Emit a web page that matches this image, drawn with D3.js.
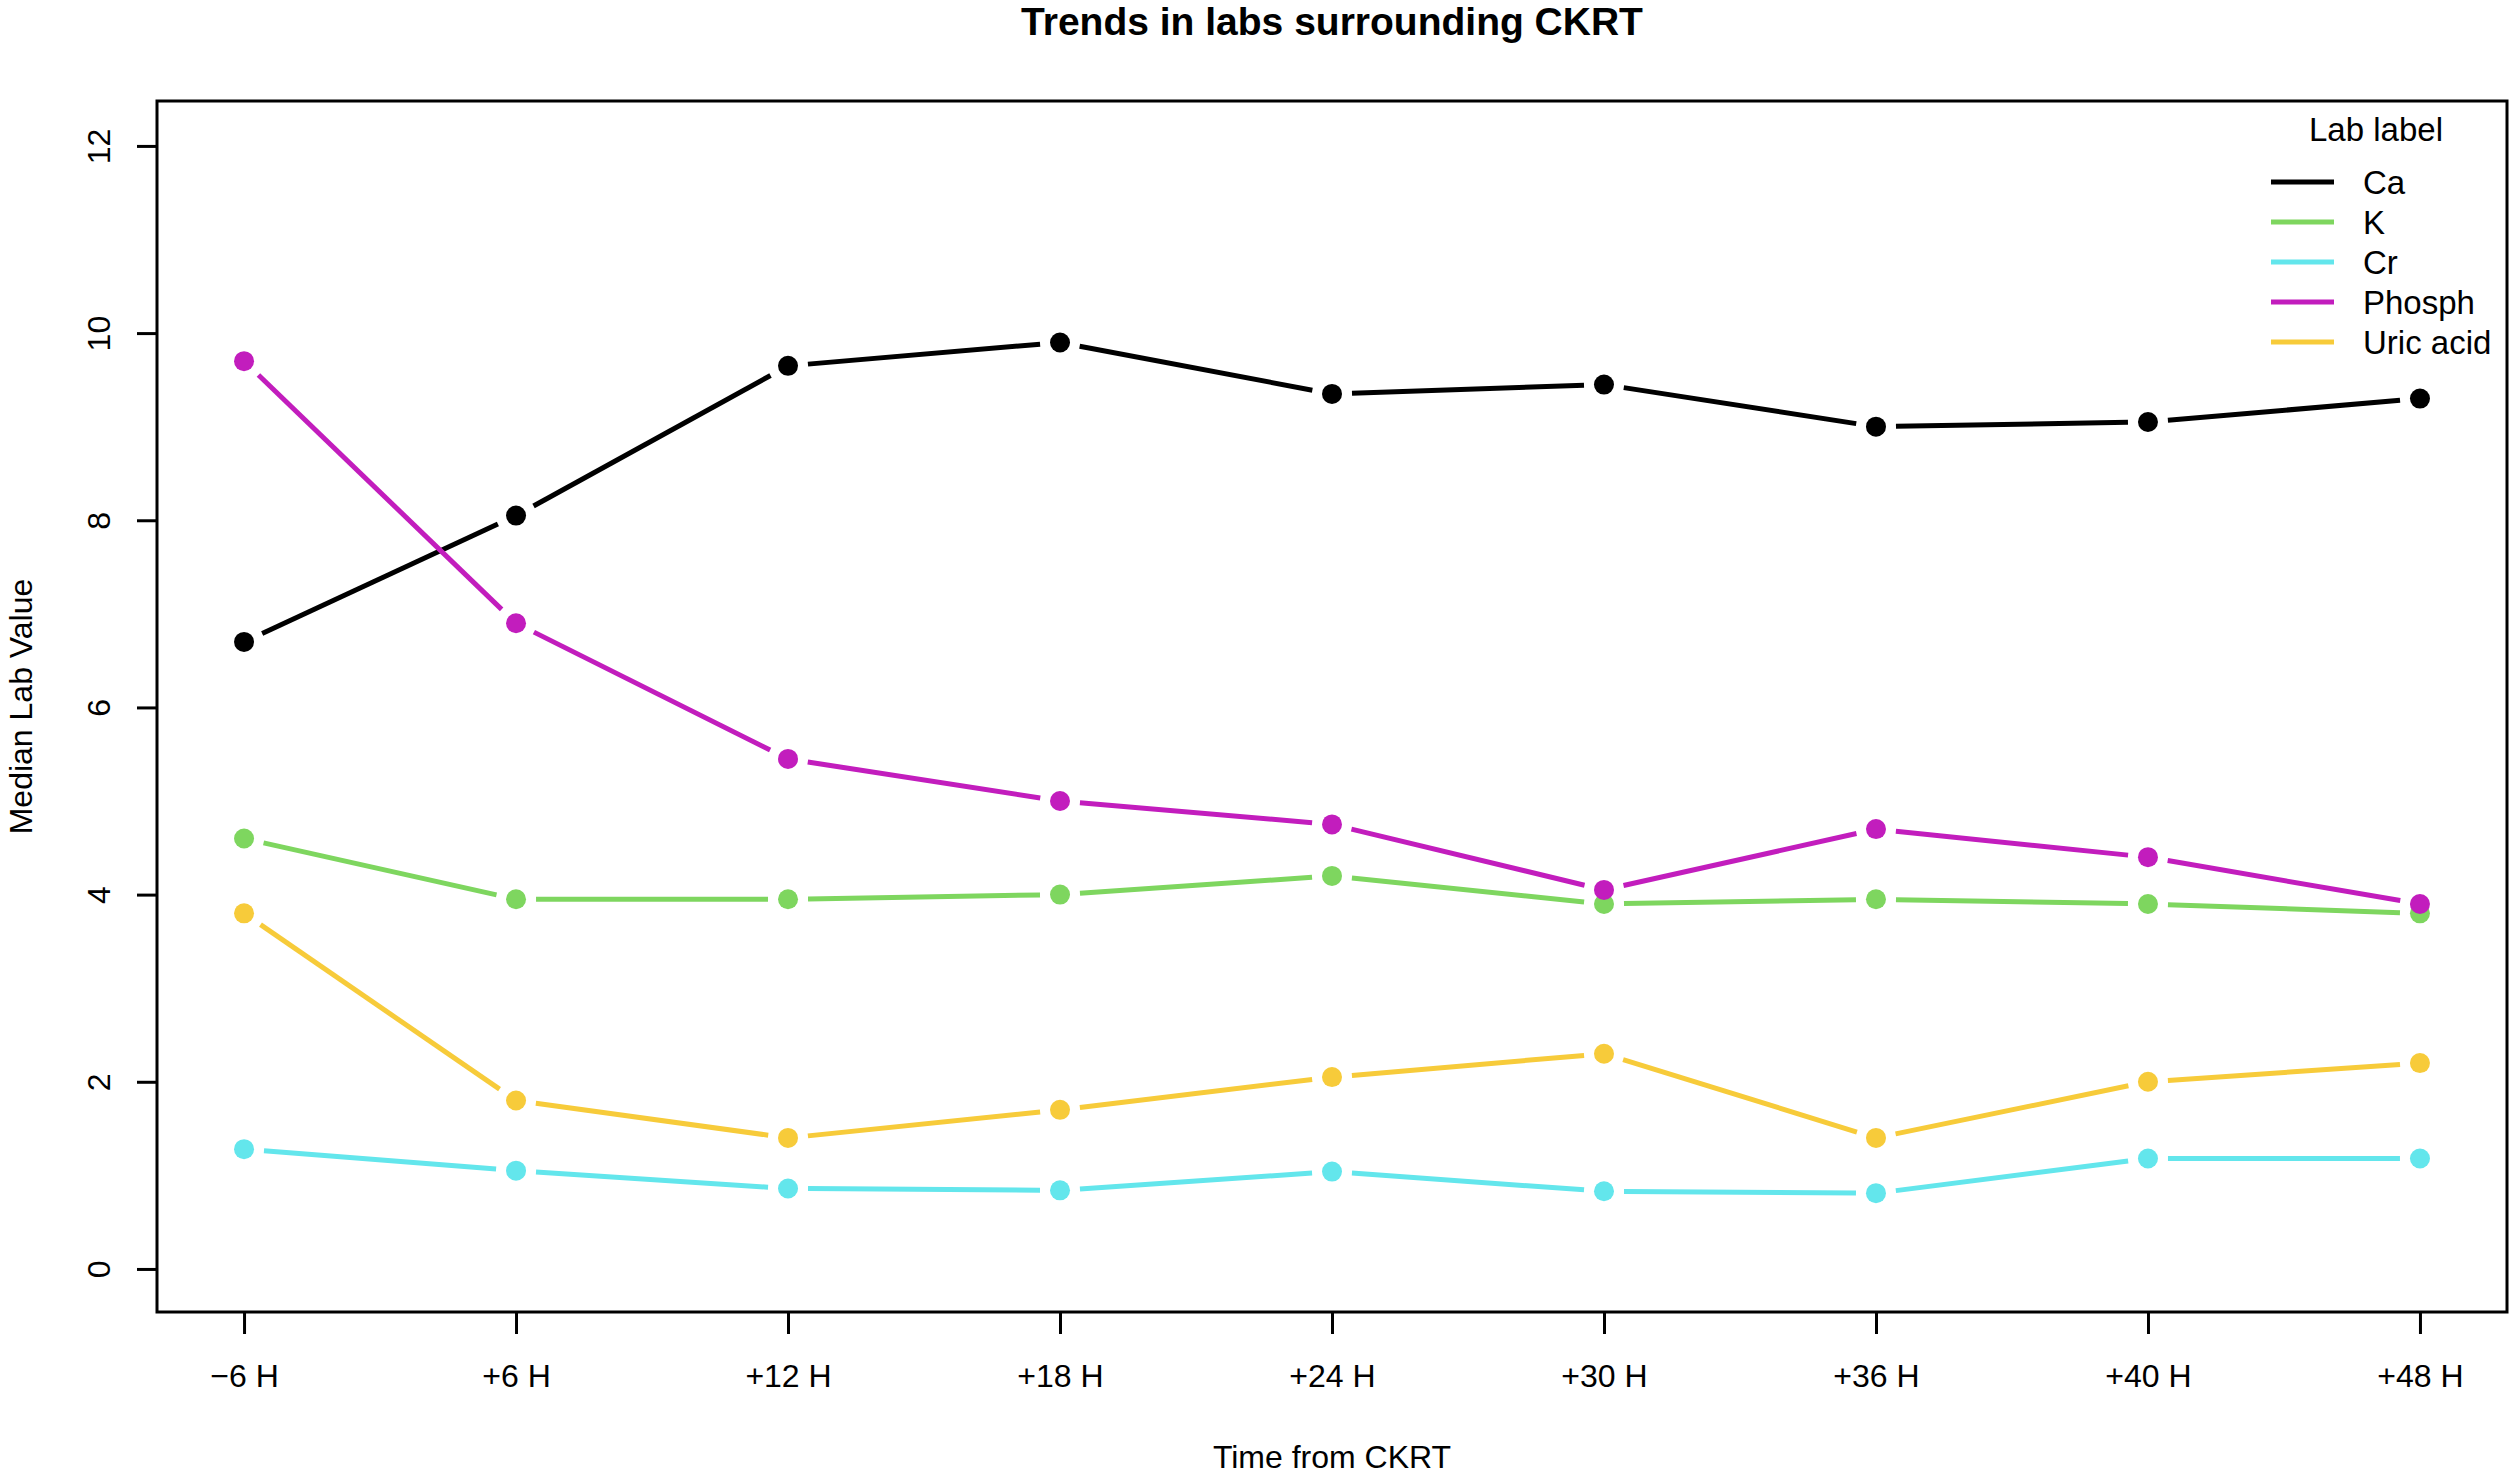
<!DOCTYPE html>
<html>
<head>
<meta charset="utf-8">
<script src="https://cdn.jsdelivr.net/npm/d3@7"></script>
<style>
  body { margin: 0; background: #fff; }
  text { font-family: "Liberation Sans", Arial, Helvetica, sans-serif; }
</style>
</head>
<body>
<div class="svg"></div>
<script>
var svgWidth = 2515;
var svgHeight = 1476;

// time points (x categories)
var timeLabels = ["\u22126 H", "+6 H", "+12 H", "+18 H", "+24 H", "+30 H", "+36 H", "+40 H", "+48 H"];

// lab names and colours, in legend order
var labNames = ["Ca", "K", "Cr", "Phosph", "Uric acid"];
var labColors = ["#000000", "#7ed65f", "#63e6ec", "#c21dbd", "#f7cb3a"];

// median values
var caValues = [6.7, 8.05, 9.65, 9.9, 9.35, 9.45, 9.0, 9.05, 9.3];
var kValues = [4.6, 3.95, 3.95, 4.0, 4.2, 3.9, 3.95, 3.9, 3.8];
var crValues = [1.28, 1.05, 0.86, 0.84, 1.04, 0.83, 0.81, 1.18, 1.18];
var phosphValues = [9.7, 6.9, 5.45, 5.0, 4.75, 4.05, 4.7, 4.4, 3.9];
var uricValues = [3.8, 1.8, 1.4, 1.7, 2.05, 2.3, 1.4, 2.0, 2.2];

var yTicks = [0, 2, 4, 6, 8, 10, 12];

var seriesValues = [caValues, kValues, crValues, phosphValues, uricValues];

var margin = {
  top: 101,
  right: 8,
  bottom: 164,
  left: 157
};

var plotLeft = margin.left;
var plotRight = svgWidth - margin.right;
var plotTop = margin.top;
var plotBottom = svgHeight - margin.bottom;

var svg = d3.select(".svg")
  .append("svg")
  .attr("width", svgWidth)
  .attr("height", svgHeight);

// R style axes: 4% padding on each side
var xScale = d3.scaleLinear()
  .domain([1 - 0.32, timeLabels.length + 0.32])
  .range([plotLeft, plotRight]);

var yScale = d3.scaleLinear()
  .domain([-0.46, 12.48])
  .range([plotBottom, plotTop]);

// title
svg.append("text")
  .text("Trends in labs surrounding CKRT")
  .attr("x", (plotLeft + plotRight) / 2)
  .attr("y", 35)
  .attr("text-anchor", "middle")
  .attr("font-size", 39)
  .attr("font-weight", "bold")
  .attr("fill", "#000");

// x axis
var xAxis = d3.axisBottom(xScale)
  .tickValues(d3.range(1, timeLabels.length + 1))
  .tickFormat(function(d) { return timeLabels[d - 1]; })
  .tickSize(22)
  .tickPadding(30);

var gx = svg.append("g")
  .attr("transform", "translate(0," + plotBottom + ")")
  .call(xAxis);
gx.select(".domain").remove();
gx.selectAll("line").attr("stroke", "#000").attr("stroke-width", 3);
gx.selectAll("text")
  .attr("font-size", 32)
  .attr("font-family", "Liberation Sans, Arial, sans-serif")
  .attr("fill", "#000")
  .attr("dy", "0.71em");

// y axis
var yAxis = d3.axisLeft(yScale)
  .tickValues(yTicks)
  .tickSize(20)
  .tickPadding(0)
  .tickFormat(d3.format("d"));

var gy = svg.append("g")
  .attr("transform", "translate(" + plotLeft + ",0)")
  .call(yAxis);
gy.select(".domain").remove();
gy.selectAll("line").attr("stroke", "#000").attr("stroke-width", 3);
gy.selectAll("text")
  .attr("font-size", 32)
  .attr("font-family", "Liberation Sans, Arial, sans-serif")
  .attr("fill", "#000")
  .attr("x", null)
  .attr("dy", null)
  .attr("text-anchor", "middle")
  .attr("transform", "translate(-47,0) rotate(-90)");

// plot box
svg.append("rect")
  .attr("x", plotLeft)
  .attr("y", plotTop)
  .attr("width", plotRight - plotLeft)
  .attr("height", plotBottom - plotTop)
  .attr("fill", "none")
  .attr("stroke", "#000")
  .attr("stroke-width", 3);

// axis titles
svg.append("text")
  .text("Time from CKRT")
  .attr("x", (plotLeft + plotRight) / 2)
  .attr("y", 1468)
  .attr("text-anchor", "middle")
  .attr("font-size", 32)
  .attr("fill", "#000");

svg.append("text")
  .text("Median Lab Value")
  .attr("transform", "translate(32," + ((plotTop + plotBottom) / 2) + ") rotate(-90)")
  .attr("text-anchor", "middle")
  .attr("font-size", 32)
  .attr("fill", "#000");

// type = "b": lines broken around the points
var gap = 20;

function drawSeries(values, color) {
  var pts = values.map(function(v, i) {
    return [xScale(i + 1), yScale(v)];
  });

  var segs = [];
  for (var i = 0; i < pts.length - 1; i++) {
    var dx = pts[i + 1][0] - pts[i][0];
    var dy = pts[i + 1][1] - pts[i][1];
    var len = Math.sqrt(dx * dx + dy * dy);
    if (len <= 2 * gap) continue;
    var ux = dx / len, uy = dy / len;
    segs.push([pts[i][0] + ux * gap, pts[i][1] + uy * gap,
               pts[i + 1][0] - ux * gap, pts[i + 1][1] - uy * gap]);
  }

  var g = svg.append("g");

  g.selectAll("line")
    .data(segs)
    .enter()
    .append("line")
    .attr("x1", function(d) { return d[0]; })
    .attr("y1", function(d) { return d[1]; })
    .attr("x2", function(d) { return d[2]; })
    .attr("y2", function(d) { return d[3]; })
    .attr("stroke", color)
    .attr("stroke-width", 5);

  g.selectAll("circle")
    .data(pts)
    .enter()
    .append("circle")
    .attr("cx", function(d) { return d[0]; })
    .attr("cy", function(d) { return d[1]; })
    .attr("r", 10)
    .attr("fill", color);
}

for (var s = 0; s < seriesValues.length; s++) {
  drawSeries(seriesValues[s], labColors[s]);
}

// legend (no frame)
var legend = svg.append("g");

legend.append("text")
  .text("Lab label")
  .attr("x", 2376)
  .attr("y", 141)
  .attr("text-anchor", "middle")
  .attr("font-size", 33)
  .attr("fill", "#000");

var items = legend.selectAll(".item")
  .data(labNames)
  .enter()
  .append("g")
  .attr("transform", function(d, i) { return "translate(0," + (182 + i * 40) + ")"; });

items.append("line")
  .attr("x1", 2271)
  .attr("x2", 2334)
  .attr("y1", 0)
  .attr("y2", 0)
  .attr("stroke", function(d, i) { return labColors[i]; })
  .attr("stroke-width", 5);

items.append("text")
  .text(function(d) { return d; })
  .attr("x", 2363)
  .attr("y", 0)
  .attr("dy", "0.35em")
  .attr("font-size", 33)
  .attr("fill", "#000");
</script>
</body>
</html>
